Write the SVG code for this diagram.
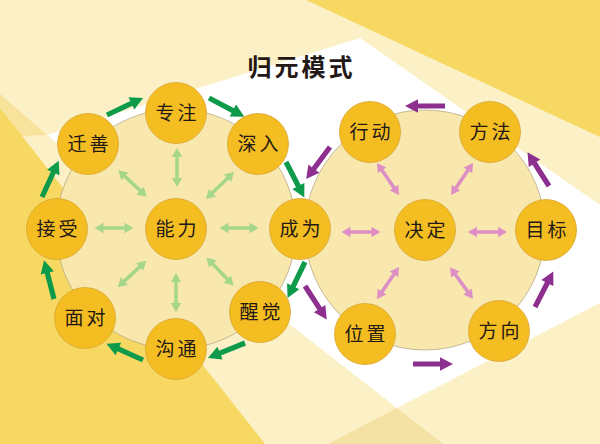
<svg xmlns="http://www.w3.org/2000/svg" width="600" height="444" viewBox="0 0 600 444">
<defs>
<style>
.node circle{fill:#f4bd21;stroke:#d8a635;stroke-width:0.8}
.node text{font-family:"Noto Sans CJK SC","Noto Sans CJK JP",sans-serif;font-size:19px;fill:#231815;text-anchor:middle;letter-spacing:3px}
.big{fill:#f9e8ae;stroke:#b9a888;stroke-width:0.8}
.title{font-family:"Noto Sans CJK SC",sans-serif;font-size:24px;font-weight:bold;fill:#231815;text-anchor:middle;letter-spacing:3px}
</style>
<path id="ga" d="M0,-2.6 H27 V-6.8 L40,0 L27,6.8 V2.6 H0 Z" fill="#0d9a4a"/>
<path id="pa" d="M0,-2.6 H27 V-6.8 L40,0 L27,6.8 V2.6 H0 Z" fill="#8c2f8e"/>
<path id="lg" d="M-19.5,0 L-10.5,-5.2 V-1.8 H10.5 V-5.2 L19.5,0 L10.5,5.2 V1.8 H-10.5 V5.2 Z" fill="#a5d689"/>
<path id="pk" d="M-19.5,0 L-10.5,-5.2 V-1.8 H10.5 V-5.2 L19.5,0 L10.5,5.2 V1.8 H-10.5 V5.2 Z" fill="#dd8fc4"/>
</defs>
<g id="background">
<rect width="600" height="444" fill="#fbf0c6"/>
<polygon points="306,0 600,0 600,137" fill="#f6d862"/>
<polygon points="47,135 360,38 600,205 600,303 397,408" fill="#ffffff"/>
<polygon points="0,94 47,135 20,136 0,108" fill="#f8e39c"/>
<polygon points="0,108 265,444 0,444" fill="#f6d862"/>
<polygon points="328,444 397,408 443,444" fill="#f3e2a4"/>
</g>
<circle class="big" cx="176" cy="229" r="120"/>
<circle class="big" cx="425" cy="230" r="120"/>
<text class="title" x="301.5" y="76">归元模式</text>
<g id="connectors">
<use href="#ga" transform="translate(107,115) rotate(-25.3)"/>
<use href="#ga" transform="translate(209,98) rotate(27.8)"/>
<use href="#ga" transform="translate(286,162) rotate(62.8)"/>
<use href="#ga" transform="translate(305,262) rotate(115.9)"/>
<use href="#ga" transform="translate(245,343) rotate(157.9)"/>
<use href="#ga" transform="translate(143,360) rotate(204.1)"/>
<use href="#ga" transform="translate(54,299) rotate(-104.4)"/>
<use href="#ga" transform="translate(42,197) rotate(-65.3)"/>
<use href="#lg" transform="translate(177,167.5) rotate(90)"/>
<use href="#lg" transform="translate(114,228)"/>
<use href="#lg" transform="translate(239,228)"/>
<use href="#lg" transform="translate(132.5,183.5) rotate(43)"/>
<use href="#lg" transform="translate(220,185.5) rotate(-44)"/>
<use href="#lg" transform="translate(176,292.5) rotate(90)"/>
<use href="#lg" transform="translate(132,274) rotate(-43)"/>
<use href="#lg" transform="translate(220,271.5) rotate(46)"/>
<use href="#pa" transform="translate(330,147) rotate(126.6)"/>
<use href="#pa" transform="translate(445,106) rotate(180)"/>
<use href="#pa" transform="translate(549,186) rotate(-122.5)"/>
<use href="#pa" transform="translate(535,307) rotate(-62.8)"/>
<use href="#pa" transform="translate(413,364)"/>
<use href="#pa" transform="translate(305,286) rotate(57.1)"/>
<use href="#pk" transform="translate(361,232)"/>
<use href="#pk" transform="translate(487.5,232)"/>
<use href="#pk" transform="translate(388,179) rotate(55.5)"/>
<use href="#pk" transform="translate(462,179) rotate(-55.5)"/>
<use href="#pk" transform="translate(388,283) rotate(-55.5)"/>
<use href="#pk" transform="translate(461.5,283) rotate(54.3)"/>
</g>
<g id="n-zhuanzhu" class="node"><circle cx="176" cy="113" r="30.5"/><text x="177.5" y="120">专注</text></g>
<g id="n-qianshan" class="node"><circle cx="88" cy="144" r="30.5"/><text x="89.5" y="151">迁善</text></g>
<g id="n-shenru" class="node"><circle cx="258" cy="144" r="30.5"/><text x="259.5" y="151">深入</text></g>
<g id="n-jieshou" class="node"><circle cx="57" cy="229" r="30.5"/><text x="58.5" y="236">接受</text></g>
<g id="n-nengli" class="node"><circle cx="176" cy="229" r="30.5"/><text x="177.5" y="236">能力</text></g>
<g id="n-chengwei" class="node"><circle cx="300" cy="229" r="30.5"/><text x="301.5" y="236">成为</text></g>
<g id="n-miandui" class="node"><circle cx="85" cy="318" r="30.5"/><text x="86.5" y="325">面对</text></g>
<g id="n-goutong" class="node"><circle cx="176" cy="349" r="30.5"/><text x="177.5" y="356">沟通</text></g>
<g id="n-xingjue" class="node"><circle cx="260" cy="312" r="30.5"/><text x="261.5" y="319">醒觉</text></g>
<g id="n-xingdong" class="node"><circle cx="370" cy="132" r="30.5"/><text x="371.5" y="139">行动</text></g>
<g id="n-fangfa" class="node"><circle cx="490" cy="132" r="30.5"/><text x="491.5" y="139">方法</text></g>
<g id="n-jueding" class="node"><circle cx="425" cy="230" r="30.5"/><text x="426.5" y="237">决定</text></g>
<g id="n-mubiao" class="node"><circle cx="546" cy="230" r="30.5"/><text x="547.5" y="237">目标</text></g>
<g id="n-weizhi" class="node"><circle cx="365" cy="334" r="30.5"/><text x="366.5" y="341">位置</text></g>
<g id="n-fangxiang" class="node"><circle cx="499" cy="331" r="30.5"/><text x="500.5" y="338">方向</text></g>
</svg>
